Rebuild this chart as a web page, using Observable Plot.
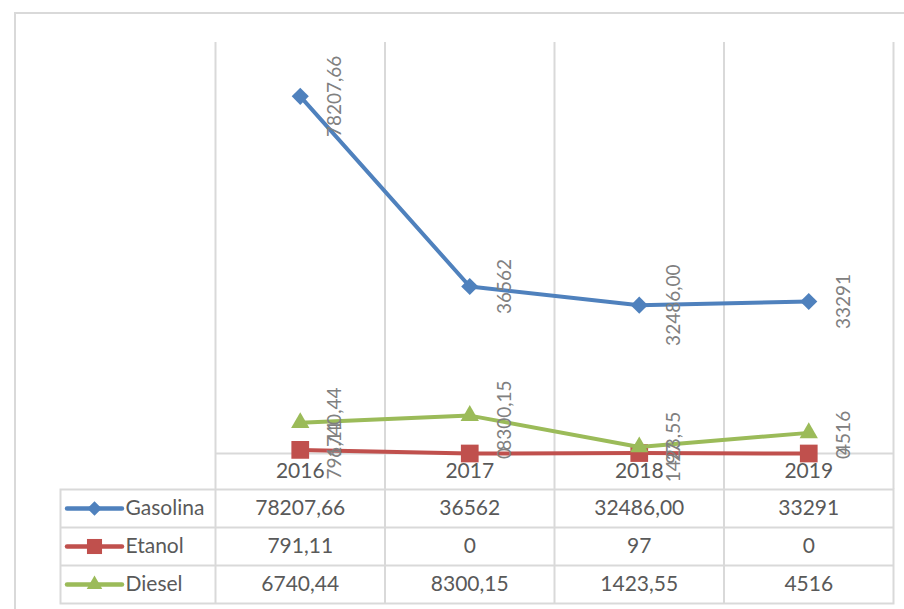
<!DOCTYPE html>
<html>
<head>
<meta charset="utf-8">
<script src="https://cdn.jsdelivr.net/npm/d3@7"></script>
<script src="https://cdn.jsdelivr.net/npm/@observablehq/plot@0.6"></script>
<style>
  html, body { margin: 0; padding: 0; background: #fff; overflow: hidden; }
  #wrap { position: relative; width: 904px; height: 609px; }
  #border { position: absolute; left: 14px; top: 12px; width: 2000px; height: 2000px;
            border-left: 2px solid #d9d9d9; border-top: 2px solid #d9d9d9; box-sizing: border-box; }
  #chart { position: absolute; left: 0; top: 0; }
  #table { position: absolute; left: 0; top: 488px; }
  svg { overflow: visible; }
</style>
</head>
<body>
<div id="wrap">
  <div id="border"></div>
  <div id="chart"></div>
  <div id="table"></div>
</div>
<script>
// ---- data ----
const years = ["2016", "2017", "2018", "2019"];
const seriesNames = ["Gasolina", "Etanol", "Diesel"];
const gasolina = [78207.66, 36562, 32486.00, 33291];
const etanol = [791.11, 0, 97, 0];
const diesel = [6740.44, 8300.15, 1423.55, 4516];
const gasolinaLabels = ["78207,66", "36562", "32486,00", "33291"];
const etanolLabels = ["791,11", "0", "97", "0"];
const dieselLabels = ["6740,44", "8300,15", "1423,55", "4516"];

const seriesValues = {Gasolina: gasolina, Etanol: etanol, Diesel: diesel};
const seriesLabels = {Gasolina: gasolinaLabels, Etanol: etanolLabels, Diesel: dieselLabels};
const rows = seriesNames.flatMap(s => years.map((y, i) => ({
  series: s, year: y, value: seriesValues[s][i], label: seriesLabels[s][i]
})));

// ---- styles ----
const colors = {Gasolina: "#4f81bd", Etanol: "#c0504d", Diesel: "#9bbb59"};
const symbols = {Gasolina: "diamond2", Etanol: "square", Diesel: "triangle"};
const radii = {Gasolina: 7.7, Etanol: 10, Diesel: 6.8};
const grid = "#d9d9d9";
const font = "Lato, 'Open Sans', sans-serif";
const W = 904, ML = 215, MR = 11;
const bw = (W - ML - MR) / years.length;

const xScale = {type: "band", domain: years, padding: 0, round: false, axis: null};
const colorScale = {domain: seriesNames, range: seriesNames.map(s => colors[s])};

// ---- chart ----
const chartMarks = [
  Plot.ruleX(years, {x: d => d, dx: -bw / 2, stroke: grid, strokeWidth: 2, insetBottom: -36}),
  Plot.ruleX(years.slice(-1), {x: d => d, dx: bw / 2, stroke: grid, strokeWidth: 2, insetBottom: -36}),
  Plot.ruleY([0], {stroke: grid, strokeWidth: 2}),
];
for (const s of seriesNames) {
  const data = rows.filter(r => r.series === s);
  chartMarks.push(Plot.line(data, {x: "year", y: "value", stroke: colors[s], strokeWidth: 4, strokeLinejoin: "round"}));
  chartMarks.push(Plot.dot(data, {x: "year", y: "value", symbol: symbols[s], r: radii[s], fill: colors[s], stroke: "none"}));
}
chartMarks.push(Plot.text(rows, {x: "year", y: "value", text: "label", rotate: -90, dx: 35,
  fill: "#808080", fontSize: 19, lineAnchor: "middle", textAnchor: "middle"}));
chartMarks.push(Plot.text(years, {x: d => d, frameAnchor: "bottom", dy: 18, text: d => d,
  fill: "#595959", fontSize: 21, lineAnchor: "middle"}));

const chart = Plot.plot({
  width: W, height: 489,
  marginLeft: ML, marginRight: MR, marginTop: 42, marginBottom: 36,
  x: xScale,
  y: {domain: [0, 90000], axis: null},
  style: {background: "none", fontFamily: font},
  marks: chartMarks
});
document.getElementById("chart").appendChild(chart);

// ---- data table ----
const rowH = 38;
const tableMarks = [
  Plot.ruleX(years, {x: d => d, dx: -bw / 2, stroke: grid, strokeWidth: 2}),
  Plot.ruleY(seriesNames.slice(1), {y: d => d, dy: -rowH / 2, insetLeft: -155, stroke: grid, strokeWidth: 2}),
  Plot.frame({stroke: grid, strokeWidth: 2, insetLeft: -155}),
  Plot.text(rows, {x: "year", y: "series", text: "label", fill: "#595959", fontSize: 21, lineAnchor: "middle"}),
  Plot.text(seriesNames, {y: d => d, text: d => d, frameAnchor: "left", dx: -90, textAnchor: "start",
    fill: "#595959", fontSize: 21, lineAnchor: "middle"}),
  Plot.ruleY(seriesNames, {y: d => d, stroke: d => d, strokeWidth: 4.5, strokeLinecap: "round",
    insetLeft: -148, insetRight: (W - MR) - 122}),
];
for (const s of seriesNames) {
  tableMarks.push(Plot.dot([s], {y: d => d, frameAnchor: "left", dx: -121, symbol: symbols[s],
    r: radii[s] * 0.85, fill: colors[s], stroke: "none"}));
}

const table = Plot.plot({
  width: W, height: 1 + rowH * 3 + 2,
  marginLeft: ML, marginRight: MR, marginTop: 1, marginBottom: 2,
  x: xScale,
  y: {type: "band", domain: seriesNames, padding: 0, round: false, axis: null},
  color: colorScale,
  style: {background: "none", fontFamily: font},
  marks: tableMarks
});
document.getElementById("table").appendChild(table);
</script>
</body>
</html>
